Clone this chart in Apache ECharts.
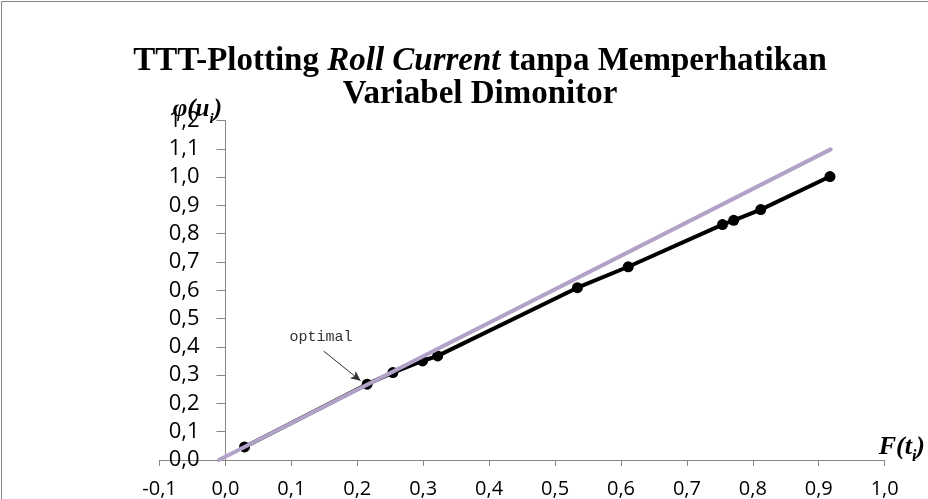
<!DOCTYPE html>
<html><head><meta charset="utf-8">
<script src="https://cdn.jsdelivr.net/npm/echarts@6/dist/echarts.min.js"></script>
<style>html,body{margin:0;padding:0;background:#fff}#c{width:928px;height:499px}</style>
</head><body><div id="c"></div>
<script>
// Data
const ttt_x = [0.029, 0.215, 0.254, 0.299, 0.322, 0.534, 0.611, 0.754, 0.771, 0.812, 0.917];
const ttt_y = [0.046, 0.268, 0.309, 0.350, 0.368, 0.609, 0.683, 0.832, 0.847, 0.885, 1.002];
const ref_x = [-0.01, 0.918];
const ref_y = [0.0, 1.098];
const optimalArrowFrom = [0.149, 0.385];
const optimalArrowTo = [0.205, 0.280];
const optimalLabelAt = [0.145, 0.433];
const xTicks = {min: -0.1, max: 1.0, step: 0.1};
const yTicks = {min: 0, max: 1.2, step: 0.1};

const fmt = v => (Math.round(v * 10) / 10).toFixed(1).replace('.', ',').replace('-0,0', '0,0');
const axisGray = '#868686';
const serif = 'Liberation Serif';
const nameRich = (big, small) => ({
  n: {fontFamily: serif, fontWeight: 'bold', fontStyle: 'italic', fontSize: big, fill: '#000', color: '#000', lineHeight: 28, verticalAlign: 'bottom'},
  s: {fontFamily: serif, fontWeight: 'bold', fontStyle: 'italic', fontSize: small, fill: '#000', color: '#000', lineHeight: 28, verticalAlign: 'bottom', padding: [0, 0, -5, 0]}
});
const chart = echarts.init(document.getElementById('c'));
chart.setOption({
  animation: false,
  backgroundColor: '#fff',
  graphic: [
    {type: 'rect', shape: {x: 1.5, y: 1.5, width: 1000, height: 1000}, style: {fill: 'none', stroke: axisGray, lineWidth: 1}, silent: true, z: -1},
    {type: 'text', x: 222, y: 122, silent: true, z: 10,
      style: {text: '{n|φ(u}{s|i}{n|)}', align: 'right', verticalAlign: 'bottom', rich: nameRich(25, 15)}}
  ],
  title: {
    left: 480, top: 45, padding: 0, textAlign: 'center',
    text: '{b|TTT-Plotting }{i|Roll Current}{b| tanpa Memperhatikan}\n{b|Variabel Dimonitor}',
    textStyle: {
      fontFamily: serif, fontWeight: 'bold', fontSize: 33, lineHeight: 33, color: '#000',
      rich: {
        b: {fontFamily: serif, fontWeight: 'bold', fontSize: 33, lineHeight: 33, color: '#000'},
        i: {fontFamily: serif, fontWeight: 'bold', fontStyle: 'italic', fontSize: 33, lineHeight: 33, color: '#000'}
      }
    }
  },
  grid: {left: 159.5, right: 36.5, top: 120.5, bottom: 38, containLabel: false},
  xAxis: {
    type: 'value', min: xTicks.min, max: xTicks.max, interval: xTicks.step,
    axisLine: {onZero: true, lineStyle: {color: axisGray, width: 1}},
    axisTick: {show: true, length: 6, lineStyle: {color: axisGray}},
    splitLine: {show: false},
    axisLabel: {formatter: fmt, fontFamily: 'Open Sans', fontSize: 20, color: '#000', margin: 19},
    name: '{n|F(t}{s|i}{n|)}', nameLocation: 'end', nameGap: -6,
    nameTextStyle: {align: 'left', verticalAlign: 'bottom', rich: nameRich(26, 16)}
  },
  yAxis: {
    type: 'value', min: yTicks.min, max: yTicks.max, interval: yTicks.step,
    axisLine: {show: true, onZero: true, lineStyle: {color: axisGray, width: 1}},
    axisTick: {show: true, length: 9, lineStyle: {color: axisGray}},
    splitLine: {show: false},
    axisLabel: {formatter: fmt, fontFamily: 'Open Sans', fontSize: 22, color: '#000', margin: -40}
  },
  series: [
    {
      type: 'line', data: ttt_x.map((x, i) => [x, ttt_y[i]]),
      lineStyle: {color: '#000', width: 4}, itemStyle: {color: '#000'},
      symbol: 'circle', symbolSize: 11, showSymbol: true, z: 2,
      markLine: {
        silent: true, symbol: ['none', 'arrow'], symbolSize: [7, 10],
        lineStyle: {color: '#333', width: 1, type: 'solid'}, label: {show: false},
        data: [[{coord: optimalArrowFrom}, {coord: optimalArrowTo}]]
      },
      markPoint: {
        silent: true, symbol: 'circle', symbolSize: 0,
        label: {show: true, formatter: 'optimal', fontFamily: 'Liberation Mono', fontSize: 15, color: '#333', position: 'inside'},
        data: [{coord: optimalLabelAt}]
      }
    },
    {
      type: 'line', data: ref_x.map((x, i) => [x, ref_y[i]]),
      lineStyle: {color: '#B3A2C7', width: 4, cap: 'round'}, symbol: 'none', z: 3
    }
  ]
});
</script></body></html>
